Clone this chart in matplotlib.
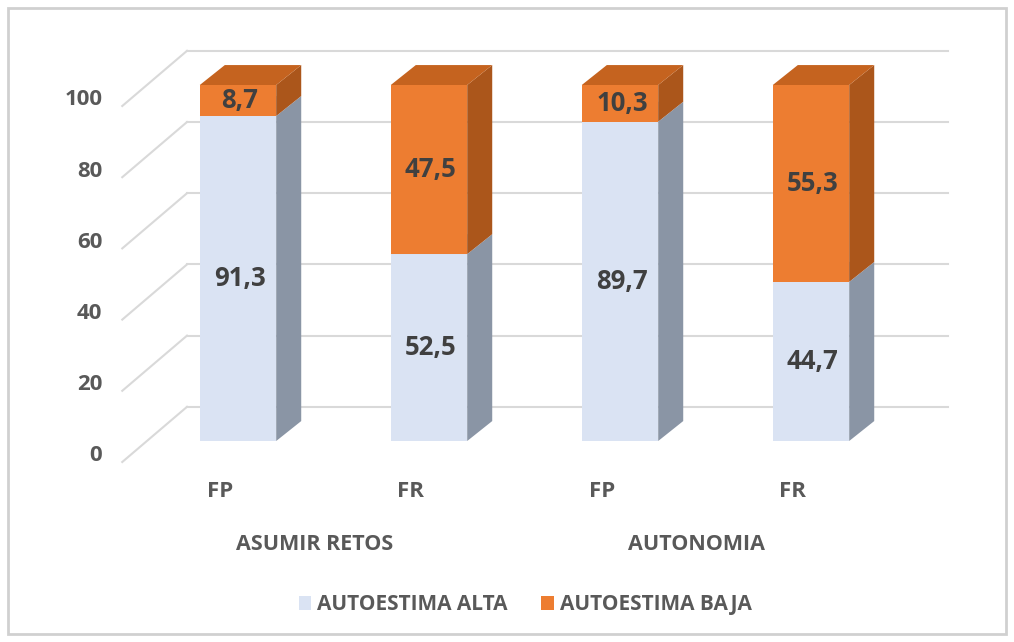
"""
Faux-3D stacked bars: autoestima alta / baja by group
"""
import numpy as np
import matplotlib.pyplot as plt
from matplotlib.patches import Polygon, Rectangle

plt.rcParams['font.family'] = ['Open Sans', 'DejaVu Sans']

# data
groups = ['ASUMIR RETOS', 'AUTONOMIA']
subcats = ['FP', 'FR', 'FP', 'FR']
alta = [91.3, 52.5, 89.7, 44.7]
baja = [8.7, 47.5, 10.3, 55.3]
series_names = ['AUTOESTIMA ALTA', 'AUTOESTIMA BAJA']
yticks = [0, 20, 40, 60, 80, 100]

# colours (front, top, side)
c_alta = ('#dae3f3', '#c9d3e3', '#8a95a5')
c_baja = ('#ed7d31', '#c5631f', '#ab561b')
grid_c = '#d9d9d9'
txt_c = '#404040'
lab_c = '#595959'

# projection helpers (data units: x = category, y = value)
bar_w = 0.4
bar_dx, bar_dy = 0.131, 5.6       # bar depth
wall_dx, wall_dy = 0.204, 9.6     # bar front -> back wall
front_dx, front_dy = -0.135, -5.9  # bar front -> floor front edge
wall_left, wall_right = -0.267, 3.717

fig = plt.figure(figsize=(10.14, 6.42), dpi=100)
ax = fig.add_axes([0, 0, 1, 1])
ax.set_xlim(-238 / 191, (1014 - 238) / 191)
ax.set_ylim(-201 / 3.56, 441 / 3.56)
ax.axis('off')

# outer frame
fig.patches.append(Rectangle((8 / 1014, 8 / 642), 998 / 1014, 626 / 642,
                             transform=fig.transFigure, fill=False,
                             ec='#d0d0d0', lw=2))

# back wall gridlines and floor diagonals
for v in yticks:
    ax.plot([wall_left, wall_right], [v + wall_dy, v + wall_dy],
            color=grid_c, lw=1.5, zorder=1)
    x0 = wall_left - (wall_dx - front_dx)
    ax.plot([x0, wall_left], [v + front_dy, v + wall_dy],
            color=grid_c, lw=1.5, zorder=1)
    ax.text(x0 - 0.105, v - 4.2, str(v), ha='right', va='center',
            fontsize=16, fontweight='bold', color=lab_c)

x = np.arange(len(subcats))
bottoms = [np.zeros(len(x)), np.array(alta)]
for vals, bot, cols in zip([alta, baja], bottoms, [c_alta, c_baja]):
    ax.bar(x, vals, bottom=bot, width=bar_w, color=cols[0], zorder=3)
    for xi, v, b in zip(x, vals, bot):
        xl, xr = xi - bar_w / 2, xi + bar_w / 2
        top = b + v
        side = [(xr, b), (xr + bar_dx, b + bar_dy),
                (xr + bar_dx, top + bar_dy), (xr, top)]
        ax.add_patch(Polygon(side, closed=True, fc=cols[2], ec='none', zorder=3))
        lid = [(xl, top), (xl + bar_dx, top + bar_dy),
               (xr + bar_dx, top + bar_dy), (xr, top)]
        ax.add_patch(Polygon(lid, closed=True, fc=cols[1], ec='none', zorder=3))
        ax.text(xi + 0.01, b + v / 2, f'{v:.1f}'.replace('.', ','), ha='center',
                va='center', fontsize=18.5, fontweight='bold', color=txt_c,
                zorder=5)

# category labels on the floor front edge
for xi, lab in zip(x, subcats):
    ax.text(xi - 0.095, -14.3, lab, ha='center', va='center',
            fontsize=16, fontweight='bold', color=lab_c)
for gi, g in enumerate(groups):
    xc = (x[2 * gi] + x[2 * gi + 1]) / 2 - 0.1
    ax.text(xc, -29.2, g, ha='center', va='center',
            fontsize=15.5, fontweight='bold', color=lab_c)

handles = [Rectangle((0, 0), 1, 1, fc=c_alta[0]), Rectangle((0, 0), 1, 1, fc=c_baja[0])]
leg = fig.legend(handles, series_names, loc='center', bbox_to_anchor=(0.518, 0.058),
                 ncol=2, frameon=False, handlelength=0.6, handleheight=0.6,
                 handletextpad=0.3, columnspacing=1.6,
                 prop={'size': 15, 'weight': 'bold'})
for t in leg.get_texts():
    t.set_color(lab_c)

fig.savefig('out.png', dpi=100)
